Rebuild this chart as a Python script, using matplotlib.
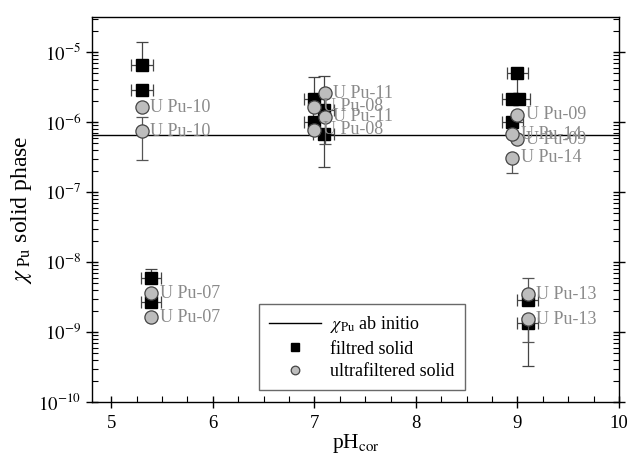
import matplotlib
matplotlib.use("Agg")
import matplotlib.pyplot as plt
from matplotlib.ticker import LogLocator, NullFormatter, MultipleLocator
import numpy as np

plt.rcParams['font.family'] = ['Liberation Serif', 'DejaVu Serif']
plt.rcParams['mathtext.fontset'] = 'stix'

# ab initio reference value
chi_ab_initio = 6.5e-7

# filtered solid (black squares)
filt_ph = [5.30, 5.30, 5.39, 5.39, 7.00, 7.00, 7.09, 7.09, 9.00, 8.95, 9.02, 8.95, 9.10, 9.10]
filt_val = [6.5e-6, 2.9e-6, 6.0e-9, 2.7e-9, 2.1e-6, 9.9e-7, 1.5e-6, 6.7e-7, 5.0e-6, 2.1e-6, 2.1e-6, 9.9e-7, 2.9e-9, 1.33e-9]
filt_lo = [6.5e-6, 2.9e-6, 5.0e-9, 2.3e-9, 2.1e-6, 9.9e-7, 1.5e-6, 2.25e-7, 2.0e-6, 2.1e-6, 2.1e-6, 9.9e-7, 2.9e-9, 3.27e-10]
filt_hi = [1.37e-5, 2.9e-6, 7.9e-9, 3.2e-9, 4.4e-6, 9.9e-7, 4.6e-6, 6.7e-7, 5.0e-6, 2.1e-6, 2.1e-6, 9.9e-7, 2.9e-9, 1.33e-9]
filt_xerr = [0.11, 0.11, 0.10, 0.10, 0.10, 0.10, 0.10, 0.10, 0.10, 0.10, 0.10, 0.10, 0.10, 0.10]

# ultrafiltered solid (grey circles) with sample labels
ultra_ph = [5.30, 5.30, 5.39, 5.39, 7.00, 7.00, 7.10, 7.10, 9.00, 9.00, 8.95, 8.95, 9.10, 9.10]
ultra_val = [1.62e-6, 7.4e-7, 3.57e-9, 1.62e-9, 1.65e-6, 7.7e-7, 2.57e-6, 1.19e-6, 1.26e-6, 5.66e-7, 6.67e-7, 3.09e-7, 3.46e-9, 1.53e-9]
ultra_lo = [1.62e-6, 2.9e-7, 3.57e-9, 1.62e-9, 1.65e-6, 7.7e-7, 2.57e-6, 4.9e-7, 1.26e-6, 5.66e-7, 6.67e-7, 1.85e-7, 3.46e-9, 7.3e-10]
ultra_hi = [1.62e-6, 1.18e-6, 3.9e-9, 1.62e-9, 1.65e-6, 7.7e-7, 2.57e-6, 1.19e-6, 1.26e-6, 5.66e-7, 6.67e-7, 3.09e-7, 6.0e-9, 1.53e-9]
ultra_labels = ["U Pu-10", "U Pu-10", "U Pu-07", "U Pu-07", "U Pu-08", "U Pu-08", "U Pu-11", "U Pu-11",
                "U Pu-09", "U Pu-09", "U Pu-14", "U Pu-14", "U Pu-13", "U Pu-13"]

fig = plt.figure(figsize=(6.41, 4.59), dpi=100)
ax = fig.add_axes([92/641, 1-402/459, (619-92)/641, (402-17)/459])

ax.axhline(chi_ab_initio, color='black', lw=1.0, zorder=1, label=r'$\chi_{\mathrm{Pu}}$ ab initio')

fv = np.array(filt_val)
ax.errorbar(filt_ph, filt_val, xerr=filt_xerr,
            yerr=[fv - np.array(filt_lo), np.array(filt_hi) - fv],
            fmt='none', ecolor='#444444', elinewidth=0.9, capsize=4, capthick=0.9, zorder=2)
ax.plot(filt_ph, filt_val, 's', color='black', ms=8.5, zorder=3, label='filtred solid')

uv = np.array(ultra_val)
ax.errorbar(ultra_ph, ultra_val,
            yerr=[uv - np.array(ultra_lo), np.array(ultra_hi) - uv],
            fmt='none', ecolor='#555555', elinewidth=0.9, capsize=4, capthick=0.9, zorder=4)
ax.plot(ultra_ph, ultra_val, 'o', mfc='#bdbdbd', mec='#444444', mew=0.9, ms=9.5, zorder=5,
        label='ultrafiltered solid')

for x, y, t in zip(ultra_ph, ultra_val, ultra_labels):
    ax.text(x + 0.085, y, t, color='#8a8a8a', fontsize=13, va='center', ha='left', zorder=6)

ax.set_yscale('log')
ax.set_xlim(4.81, 10)
ax.set_ylim(1e-10, 10**-4.5)

ax.set_yticks([1e-10, 1e-9, 1e-8, 1e-7, 1e-6, 1e-5])
ax.set_yticklabels([r'$10^{-10}$', r'$10^{-9}$', r'$10^{-8}$', r'$10^{-7}$', r'$10^{-6}$', r'$10^{-5}$'])
ax.yaxis.set_minor_locator(LogLocator(base=10, subs=np.arange(2, 10), numticks=20))
ax.yaxis.set_minor_formatter(NullFormatter())
ax.xaxis.set_major_locator(MultipleLocator(1))
ax.xaxis.set_minor_locator(MultipleLocator(0.25))

ax.tick_params(axis='both', which='major', direction='inout', length=9, width=1, labelsize=13.5)
ax.tick_params(axis='x', which='major', pad=5)
ax.tick_params(axis='both', which='minor', direction='in', length=4, width=0.8)
ax.tick_params(axis='y', which='both', right=True)
for s in ax.spines.values():
    s.set_linewidth(1.0)

ax.set_xlabel(r'pH$_{\mathrm{cor}}$', fontsize=15.5, labelpad=0)
ax.set_ylabel(r'$\chi_{\ \mathrm{Pu}}$ solid phase', fontsize=17, labelpad=3)

leg = ax.legend(loc='lower left', bbox_to_anchor=(0.30, 0.008), fontsize=13, frameon=True,
                fancybox=False, edgecolor='#444444', handlelength=2.9, handletextpad=0.5,
                borderpad=0.55, labelspacing=0.3, markerscale=0.65, numpoints=1)
leg.get_frame().set_linewidth(1.0)

fig.savefig('out.png', dpi=100)
